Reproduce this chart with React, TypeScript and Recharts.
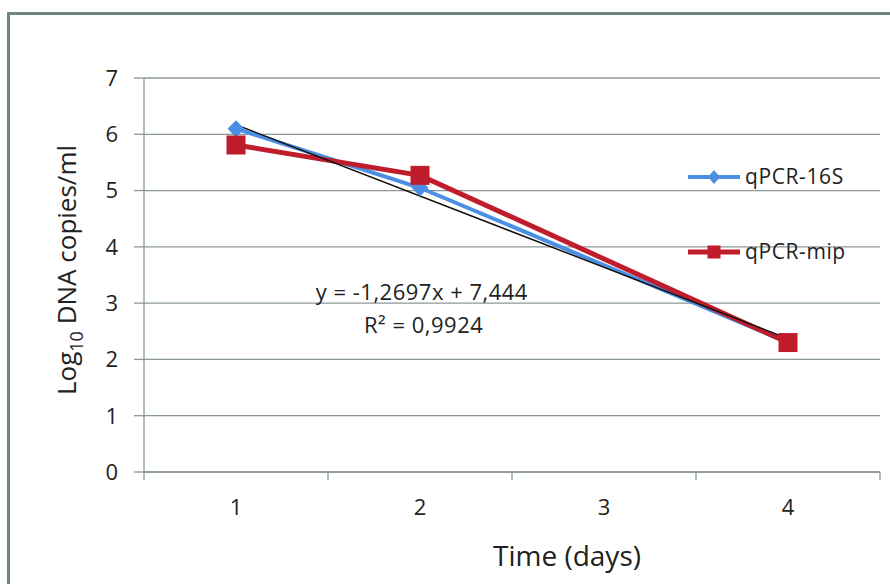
import { CartesianGrid, Line, LineChart, ReferenceDot, XAxis, YAxis } from "recharts";

const days = [1, 2, 3, 4];
const qpcr16S = [6.1, 5.05, null, 2.3];
const qpcrMip = [5.81, 5.27, null, 2.3];
const trendLine = [6.17, null, null, 2.37];
const yTicks = [0, 1, 2, 3, 4, 5, 6, 7];
const xTicks = [0.5, 1, 1.5, 2, 2.5, 3, 3.5, 4, 4.5];
const seriesNames = ["qPCR-16S", "qPCR-mip"];
const equationText = "y = -1,2697x + 7,444";
const rSquaredText = "R² = 0,9924";

const FONT = "'Open Sans', sans-serif";
const GRID = "#8a9897";
const BLUE = "#4a8fe3";
const RED = "#c01d2c";
const TEXT = "#222";

const data = days.map((day, i) => ({
  day,
  s16: qpcr16S[i],
  mip: qpcrMip[i],
  trend: trendLine[i]
}));

// custom markers: Excel style diamond / square
const Diamond = (props: any) => {
  const { cx, cy, index } = props;
  if (cx == null || cy == null || props.value == null) return <g key={index} />;
  const s = 8.5;
  return <polygon key={index} points={`${cx},${cy - s} ${cx + s},${cy} ${cx},${cy + s} ${cx - s},${cy}`} fill={BLUE} />;
};

const Square = (props: any) => {
  const { cx, cy, index } = props;
  if (cx == null || cy == null || props.value == null) return <g key={index} />;
  const s = 19;
  return <rect key={index} x={cx - s / 2} y={cy - s / 2} width={s} height={s} fill={RED} />;
};

const XTick = (props: any) => {
  const { x, y, payload } = props;
  const v = payload.value;
  if (v % 1 !== 0) {
    return <line x1={x} x2={x} y1={y - 8} y2={y} stroke={GRID} strokeWidth={1.3} />;
  }
  return (
    <text x={x} y={y + 35} textAnchor="middle" fontFamily={FONT} fontSize={22} fill={TEXT}>
      {v}
    </text>
  );
};

const YLabel = () => (
  <text
    x={76}
    y={270}
    transform="rotate(-90, 76, 270)"
    textAnchor="middle"
    fontFamily={FONT}
    fontSize={26}
    fill={TEXT}
  >
    Log
    <tspan fontSize={18} dy={7}>10</tspan>
    <tspan dy={-7}> DNA copies/ml</tspan>
  </text>
);

const XLabel = (props: any) => {
  const vb = props.viewBox;
  return (
    <text x={vb.x + 423} y={vb.y + 94} textAnchor="middle" fontFamily={FONT} fontSize={28} fill={TEXT}>
      Time (days)
    </text>
  );
};

function LegendBox() {
  return (
    <svg width={200} height={110} style={{ position: "absolute", left: 684, top: 160 }}>
      {seriesNames.map((name, i) => {
        const cy = 17 + i * 75;
        const color = i === 0 ? BLUE : RED;
        return (
          <g key={name}>
            <line x1={4} x2={56} y1={cy} y2={cy} stroke={color} strokeWidth={i === 0 ? 4 : 5} />
            {i === 0 ? (
              <polygon points={`30,${cy - 7} 36,${cy} 30,${cy + 7} 24,${cy}`} fill={color} />
            ) : (
              <rect x={23.5} y={cy - 6.5} width={13} height={13} fill={color} />
            )}
            <text x={61} y={cy + 7} fontFamily={FONT} fontSize={21} letterSpacing={0.6} fill={TEXT}>
              {name}
            </text>
          </g>
        );
      })}
    </svg>
  );
}

export default function App() {
  return (
    <div
      style={{
        position: "absolute",
        left: 0,
        top: 0,
        width: 890,
        height: 584,
        overflow: "hidden",
        background: "#fff"
      }}
    >
      <div
        style={{
          position: "absolute",
          left: 7,
          top: 12,
          width: 920,
          height: 700,
          border: "3px solid #6e8583"
        }}
      />
      <div style={{ position: "absolute", left: 0, top: 0 }}>
        <LineChart width={890} height={584} data={data} margin={{ top: 78, right: 10, left: 0, bottom: 0 }}>
          <CartesianGrid vertical={false} stroke={GRID} strokeWidth={1.3} />
          <XAxis
            dataKey="day"
            type="number"
            domain={[0.5, 4.5]}
            ticks={xTicks}
            interval={0}
            height={112}
            tickSize={8}
            tickMargin={0}
            tickLine={false}
            axisLine={{ stroke: GRID, strokeWidth: 1.3 }}
            tick={<XTick />}
            label={<XLabel />}
          />
          <YAxis
            domain={[0, 7]}
            ticks={yTicks}
            interval={0}
            width={144}
            tickSize={10}
            tickMargin={16}
            tickLine={{ stroke: GRID, strokeWidth: 1.3 }}
            axisLine={{ stroke: GRID, strokeWidth: 1.3 }}
            tick={{ fill: TEXT, fontSize: 22, fontFamily: FONT }}
            label={<YLabel />}
          />
          <Line
            dataKey="s16"
            name={seriesNames[0]}
            stroke={BLUE}
            strokeWidth={4}
            connectNulls
            dot={<Diamond />}
            activeDot={false}
            isAnimationActive={false}
          />
          <Line
            dataKey="mip"
            name={seriesNames[1]}
            stroke={RED}
            strokeWidth={5}
            connectNulls
            dot={<Square />}
            activeDot={false}
            isAnimationActive={false}
          />
          <Line
            dataKey="trend"
            stroke="#111"
            strokeWidth={1.5}
            connectNulls
            dot={false}
            activeDot={false}
            isAnimationActive={false}
          />
          <ReferenceDot
            x={2.01}
            y={3.2}
            r={0}
            fillOpacity={0}
            strokeOpacity={0}
            ifOverflow="visible"
            label={{ value: equationText, position: "center", fill: TEXT, fontSize: 22, letterSpacing: 0.5, fontFamily: FONT }}
          />
          <ReferenceDot
            x={2.02}
            y={2.6}
            r={0}
            fillOpacity={0}
            strokeOpacity={0}
            ifOverflow="visible"
            label={{ value: rSquaredText, position: "center", fill: TEXT, fontSize: 22, letterSpacing: 0.5, fontFamily: FONT }}
          />
        </LineChart>
      </div>
      <LegendBox />
    </div>
  );
}
